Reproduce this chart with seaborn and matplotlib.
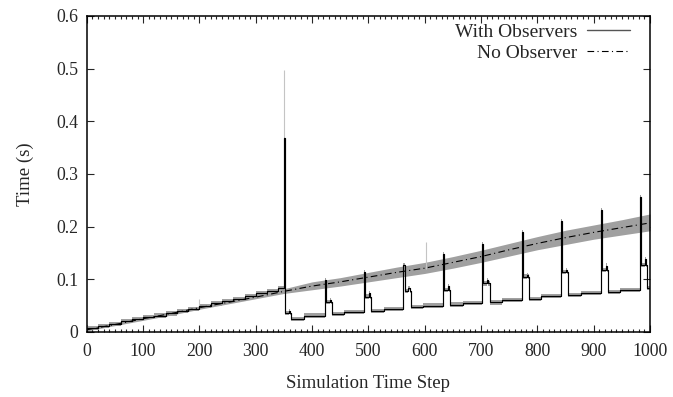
import matplotlib
matplotlib.use("Agg")
import matplotlib.pyplot as plt
import seaborn as sns
import numpy as np
from matplotlib.ticker import MultipleLocator, FixedLocator
from matplotlib.lines import Line2D

# ---------------- data ----------------
# No Observer: mean run time and spread (min / max) every 50 steps
noobs_steps = list(range(0, 1001, 50))
noobs_mean = [0.004, 0.014, 0.025, 0.035, 0.046, 0.056, 0.066, 0.077, 0.087, 0.095, 0.104,
              0.113, 0.121, 0.132, 0.143, 0.156, 0.168, 0.179, 0.189, 0.198, 0.207]
noobs_lo = [0.002, 0.012, 0.022, 0.032, 0.043, 0.053, 0.063, 0.073, 0.080, 0.087, 0.095,
            0.103, 0.111, 0.121, 0.132, 0.144, 0.156, 0.166, 0.176, 0.184, 0.192]
noobs_hi = [0.006, 0.016, 0.028, 0.038, 0.049, 0.059, 0.069, 0.082, 0.095, 0.103, 0.113,
            0.123, 0.132, 0.143, 0.155, 0.168, 0.181, 0.193, 0.203, 0.213, 0.224]

# With Observers: staircase before the first collapse
pre_steps = list(range(0, 341, 20))
pre_vals = [0.007, 0.011, 0.015, 0.020, 0.024, 0.028, 0.031, 0.035, 0.040, 0.044,
            0.049, 0.054, 0.059, 0.063, 0.068, 0.073, 0.078, 0.083]

# With Observers: periodic cycles (spike, plateau, bump, baseline)
spike_steps = [350, 422, 492, 562, 632, 702, 772, 842, 912, 982]
spike_vals = [0.368, 0.098, 0.114, 0.127, 0.147, 0.167, 0.189, 0.211, 0.232, 0.256]
plateau_vals = [0.036, 0.057, 0.067, 0.077, 0.080, 0.092, 0.105, 0.113, 0.118, 0.127]
bump_vals = [0.040, 0.060, 0.074, 0.083, 0.087, 0.099, 0.108, 0.118, 0.126, 0.138]
base_start = [0.025, 0.034, 0.040, 0.047, 0.052, 0.056, 0.063, 0.070, 0.076, 0.083]
base_end = [0.031, 0.038, 0.044, 0.050, 0.055, 0.061, 0.068, 0.074, 0.080, 0.083]
plateau_len = 12
obs_spread = 0.004

# grey outliers of the spread
outlier_steps = [200, 350, 603]
outlier_base = [0.05, 0.37, 0.12]
outlier_vals = [0.062, 0.497, 0.171]

# build the step sequence for "With Observers"
obs_x = list(pre_steps)
obs_y = list(pre_vals)
for i, s in enumerate(spike_steps):
    nxt = spike_steps[i + 1] if i + 1 < len(spike_steps) else 1000
    pts = [(s, spike_vals[i]), (s + 2, plateau_vals[i]), (s + plateau_len - 3, bump_vals[i]),
           (s + plateau_len - 1, plateau_vals[i]), (s + plateau_len + 1, base_start[i])]
    if nxt - s > 40:
        pts.append(((s + nxt) // 2, base_end[i]))
    for px, py in pts:
        obs_x.append(px)
        obs_y.append(py)
obs_x.append(1000)
obs_y.append(obs_y[-1])
obs_x = np.array(obs_x)
obs_y = np.array(obs_y)

# ---------------- style ----------------
sns.set_style("ticks")
plt.rcParams['font.family'] = ['Liberation Serif', 'DejaVu Serif']
plt.rcParams['font.size'] = 12.8

fig = plt.figure(figsize=(6.73, 3.97), dpi=100)
ax = fig.add_axes([0.129, 0.164, 0.837, 0.796])

grey = '#a0a0a0'
# spreads
ax.fill_between(noobs_steps, noobs_lo, noobs_hi, color=grey, lw=0, zorder=1)
ax.fill_between(obs_x, obs_y - obs_spread, obs_y + obs_spread, step='post',
                color=grey, lw=0, zorder=1)
ax.vlines(outlier_steps, outlier_base, outlier_vals, color='#c4c4c4', lw=0.8, zorder=1)

# lines
sns.lineplot(x=noobs_steps, y=noobs_mean, estimator=None, sort=False, color='black',
             lw=0.8, ax=ax, zorder=3, legend=False)
ax.lines[-1].set_dashes((6, 3, 1, 3))
sns.lineplot(x=obs_x, y=obs_y, estimator=None, sort=False, color='black', lw=0.85,
             drawstyle='steps-post', ax=ax, zorder=4, legend=False)

ax.set_xlim(0, 1000)
ax.set_ylim(0, 0.6)
ax.xaxis.set_major_locator(MultipleLocator(100))
ax.xaxis.set_minor_locator(MultipleLocator(10))
ax.yaxis.set_major_locator(FixedLocator([0, 0.1, 0.2, 0.3, 0.4, 0.5, 0.6]))
ax.set_yticklabels(['0', '0.1', '0.2', '0.3', '0.4', '0.5', '0.6'])
ax.tick_params(which='both', direction='in', top=True, right=True, width=0.8)
ax.tick_params(axis='y', pad=6)
ax.tick_params(axis='x', pad=8)
ax.tick_params(which='major', length=5)
ax.tick_params(which='minor', length=2.5)
for sp in ax.spines.values():
    sp.set_linewidth(1.1)
    sp.set_color('black')

ax.set_xlabel('Simulation Time Step', labelpad=11, fontsize=13.5)
ax.set_ylabel('Time (s)', labelpad=16, fontsize=13.5)

handles = [Line2D([], [], color='#555555', lw=1.0),
           Line2D([], [], color='black', lw=0.8, dashes=(6, 3, 1, 3))]
ax.legend(handles, ['With Observers', 'No Observer'], loc='upper right',
          bbox_to_anchor=(0.9876, 1.02), markerfirst=False, frameon=False, fontsize=14,
          handlelength=2.17, borderaxespad=0.3, labelspacing=0.2, handletextpad=0.52)

fig.savefig('out.png', dpi=100)
